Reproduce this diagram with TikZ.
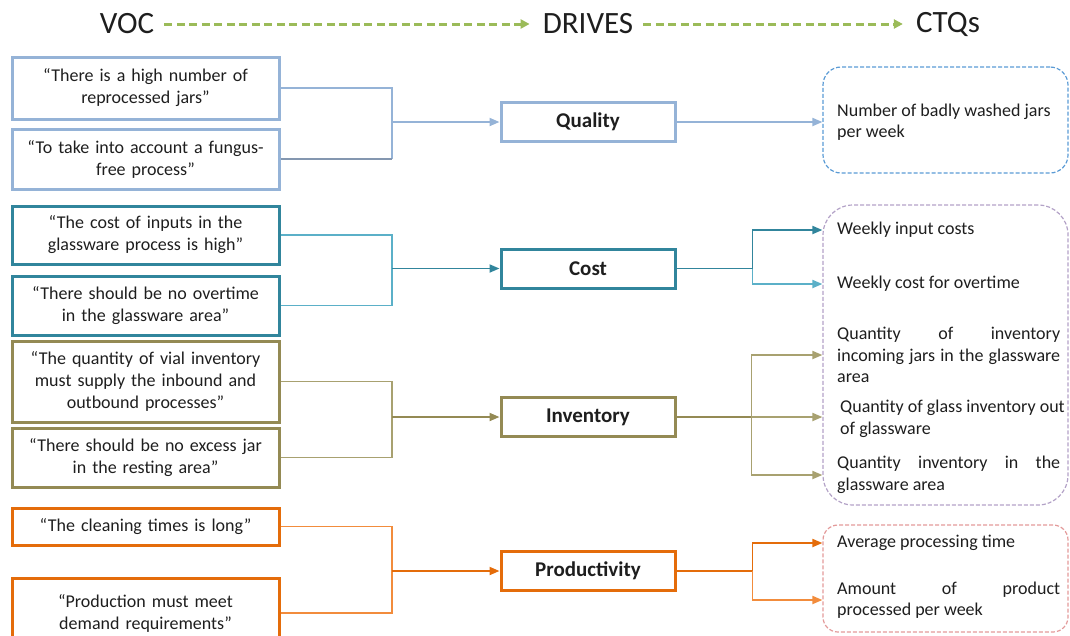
\documentclass[tikz,border=0pt]{standalone}
\usepackage{fontspec}
\setmainfont{Carlito}
\usetikzlibrary{arrows.meta}
\definecolor{qblue}{HTML}{95B3D7}
\definecolor{qdark}{HTML}{8497B0}
\definecolor{ctqblue}{HTML}{5B9BD5}
\definecolor{cteal}{HTML}{31859C}
\definecolor{ctealL}{HTML}{5BB0C8}
\definecolor{colive}{HTML}{948A54}
\definecolor{coliveL}{HTML}{A8A170}
\definecolor{corange}{HTML}{E46C0A}
\definecolor{corangeL}{HTML}{F28C3C}
\definecolor{cpurple}{HTML}{B3A2C7}
\definecolor{cred}{HTML}{E39A9A}
\definecolor{cgreen}{HTML}{9BBB59}
\definecolor{ink}{HTML}{1E1E1E}
\newcommand\hdfont{\fontsize{31}{36}\selectfont}
\newcommand\lbfont{\fontsize{18}{22}\selectfont}
\newcommand\mdfont{\fontsize{21}{25}\selectfont\bfseries}
\newcommand\ctfont{\fontsize{18}{21.5}\selectfont}
\tikzset{
  hdr/.style={font=\hdfont, text=ink, inner xsep=10pt, inner ysep=0pt},
  garrow/.style={draw=cgreen, line width=3pt, dash pattern=on 8pt off 4.5pt,
    -{Triangle[length=9pt,width=9pt]}, shorten >=3pt},
  lbox/.style={draw, line width=3pt, minimum width=267pt, text width=262pt,
    align=center, font=\lbfont, text=ink, inner sep=0pt},
  mbox/.style={draw, line width=3pt, minimum width=174pt, minimum height=39pt,
    font=\mdfont, text=ink, inner sep=0pt},
  cbox/.style={line width=1.2pt, dash pattern=on 4pt off 2pt,
    minimum width=245pt, inner sep=0pt},
  ctxt/.style={anchor=west, align=left, font=\ctfont, text=ink, inner sep=0pt},
  conn/.style={line width=1.9pt},
  tip/.style={-{Triangle[length=10pt,width=8pt]}},
}
\begin{document}
\begin{tikzpicture}[x=1pt,y=-1pt]
\useasboundingbox (0,0) rectangle (1070,635);
% headers
\node[hdr] (voc) at (127,24) {VOC};
\node[hdr] (drives) at (588,24) {DRIVES};
\node[hdr] (ctqs) at (948,24) {CTQs};
\draw[garrow] (voc.east) -- (drives.west);
\draw[garrow] (drives.east) -- (ctqs.west);
% left boxes
\node[lbox, draw=qblue, minimum height=62pt] (q1) at (145.5,88) {“There is a high number of\\reprocessed jars”};
\node[lbox, draw=qblue, minimum height=60pt] (q2) at (145.5,159) {“To take into account a fungus-\\free process”};
\node[lbox, draw=cteal, minimum height=58pt] (c1) at (145.5,235) {“The cost of inputs in the\\glassware process is high”};
\node[lbox, draw=cteal, minimum height=59pt] (c2) at (145.5,305.5) {“There should be no overtime\\in the glassware area”};
\node[lbox, draw=colive, minimum height=81pt] (i1) at (145.5,381.5) {“The quantity of vial inventory\\must supply the inbound and\\outbound processes”};
\node[lbox, draw=colive, minimum height=59pt] (i2) at (145.5,457.5) {“There should be no excess jar\\in the resting area”};
\node[lbox, draw=corange, minimum height=37pt] (p1) at (145.5,526.5) {“The cleaning times is long”};
\node[lbox, draw=corange, minimum height=70pt] (p2) at (145.5,613) {“Production must meet\\demand requirements”};
% middle boxes
\node[mbox, draw=qblue] (quality) at (588,122) {Quality};
\node[mbox, draw=cteal] (cost) at (588,268.5) {Cost};
\node[mbox, draw=colive] (inventory) at (588,417) {Inventory};
\node[mbox, draw=corange] (productivity) at (588,571) {Productivity};
% CTQ boxes
\node[cbox, draw=ctqblue, rounded corners=18pt, minimum height=106pt] (ctqq) at (945.5,120) {};
\node[cbox, draw=cpurple, rounded corners=30pt, minimum height=300pt] (ctqc) at (945.5,355) {};
\node[cbox, draw=cred, rounded corners=15pt, minimum height=107pt] (ctqp) at (945.5,578.5) {};
% CTQ texts
\node[ctxt] (t1) at (837,122) {Number of badly washed jars\\per week};
\node[ctxt] (t2) at (837,230) {Weekly input costs};
\node[ctxt] (t3) at (837,284) {Weekly cost for overtime};
\node[ctxt] (t4) at (837,355) {\makebox[223pt][s]{Quantity of inventory}\\\makebox[223pt][s]{incoming jars in the glassware}\\area};
\node[ctxt] (t5) at (840,419) {Quantity of glass inventory out\\of glassware};
\node[ctxt] (t6) at (837,475) {\makebox[223pt][s]{Quantity inventory in the}\\glassware area};
\node[ctxt] (t7) at (837,543) {Average processing time};
\node[ctxt] (t8) at (837,600) {\makebox[223pt][s]{Amount of product}\\processed per week};
% junction coordinates
\coordinate (qj) at (392,122);
\coordinate (cj) at (392,268.5);
\coordinate (ij) at (392,417);
\coordinate (pj) at (392,571);
% left connectors
\draw[conn, qblue] (q1.east) -| (qj) -- (qj |- q2.east);
\draw[conn, qdark] (qj |- q2.east) -- (q2.east);
\draw[conn, qblue, tip] (qj) -- (quality.west);
\draw[conn, ctealL] (c1.east) -| (cj) |- (c2.east);
\draw[conn, cteal, tip] (cj) -- (cost.west);
\draw[conn, coliveL] (i1.east) -| (ij) |- (i2.east);
\draw[conn, colive, tip] (ij) -- (inventory.west);
\draw[conn, corangeL] (p1.east) -| (pj) |- (p2.east);
\draw[conn, corange, tip] (pj) -- (productivity.west);
% right connectors
\draw[conn, qblue, tip] (quality.east) -- (quality.east -| ctqq.west);
\draw[conn, cteal] (cost.east) -- ++(76,0) coordinate (cr);
\draw[conn, cteal, tip] (cr) |- (ctqc.west |- t2);
\draw[conn, ctealL, tip] (cr) |- (ctqc.west |- t3);
\draw[conn, colive] (inventory.east) -- ++(75,0) coordinate (ir);
\draw[conn, coliveL, tip] (ir) |- (ctqc.west |- t4);
\draw[conn, coliveL, tip] (ir) -- (ctqc.west |- ir);
\draw[conn, coliveL, tip] (ir) |- (ctqc.west |- t6);
\draw[conn, corange] (productivity.east) -- ++(76,0) coordinate (pr);
\draw[conn, corange, tip] (pr) |- (ctqp.west |- t7);
\draw[conn, corangeL, tip] (pr) |- (ctqp.west |- t8);
\end{tikzpicture}
\end{document}
